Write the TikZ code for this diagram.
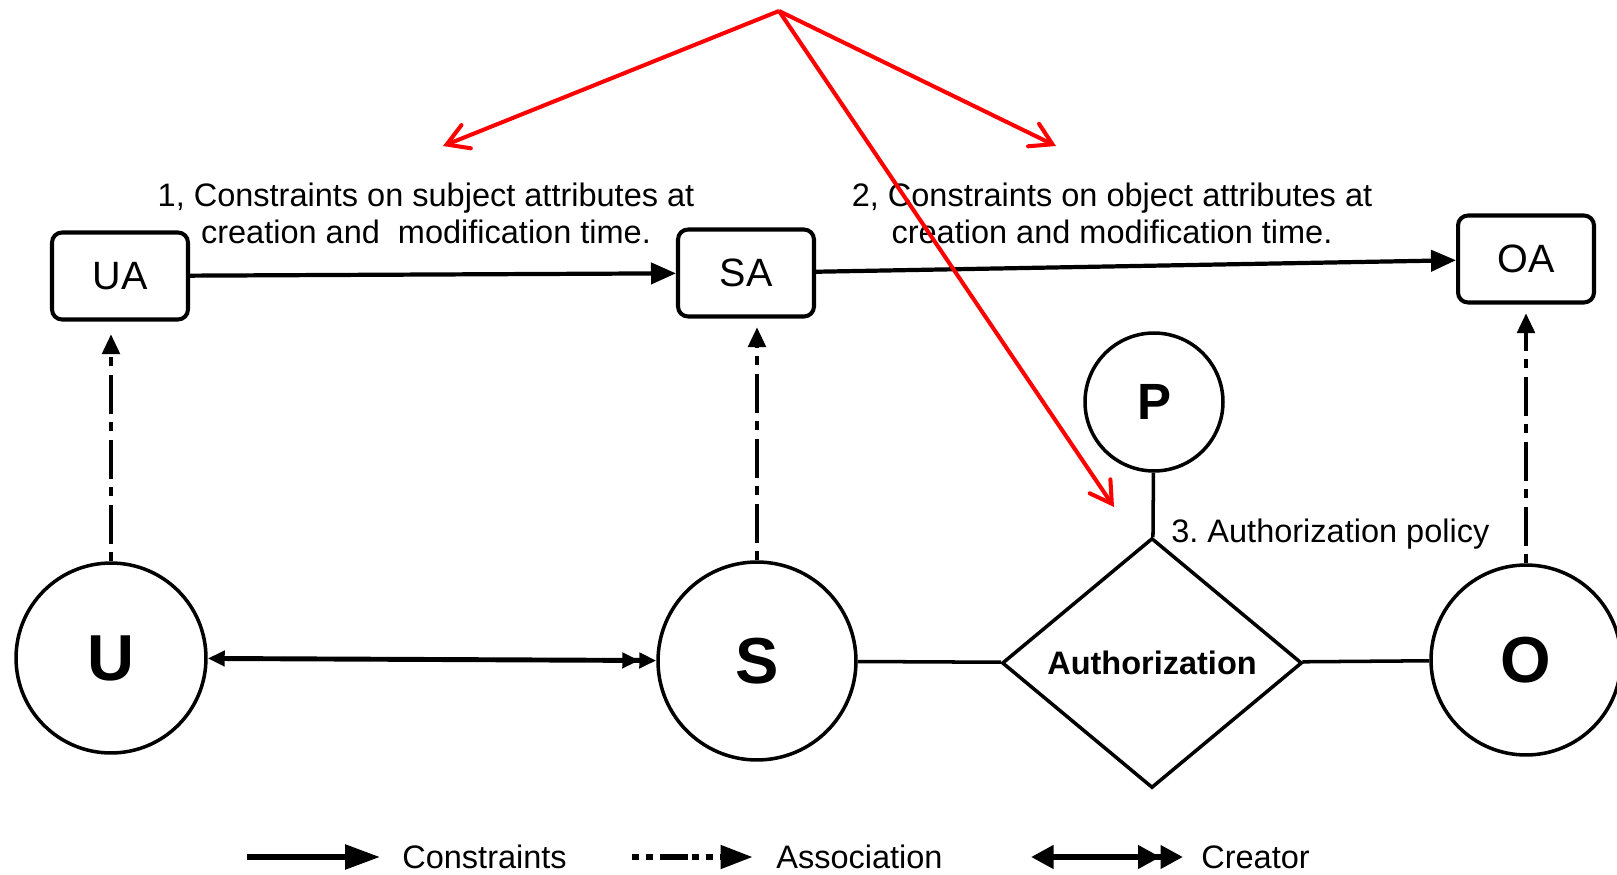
\documentclass[tikz,border=0pt]{standalone}
\usepackage{fontspec}
\setmainfont{Liberation Sans}
\usetikzlibrary{arrows.meta,shapes.geometric}

\begin{document}
\begin{tikzpicture}
[x=0.02cm,y=-0.02cm,
attr/.style={draw,rounded corners=0.2cm,line width=2.3pt,minimum width=2.72cm,minimum height=1.74cm,font=\fontsize{22.5}{26}\selectfont},
ent/.style={draw,circle,line width=2pt,inner sep=0pt,font=\fontsize{37}{40}\selectfont\bfseries},
note/.style={font=\fontsize{18.5}{21}\selectfont,align=center,inner sep=0pt},
cons/.style={-{Triangle[length=0.5cm,width=0.42cm]},line width=2.4pt},
assoc/.style={-{Triangle[length=0.4cm,width=0.34cm]},line width=2.8pt,dash pattern=on 5pt off 5pt on 22pt off 5pt},
creator/.style={{Triangle[length=0.34cm,width=0.3cm]}-{Triangle[length=0.34cm,width=0.3cm]Triangle[length=0.34cm,width=0.3cm]},line width=2.8pt},
link/.style={line width=2pt},
hint/.style={red,line width=2.3pt,-{Straight Barb[length=0.42cm,width=0.5cm,line cap=round]}}
]
\tikzset{lcons/.style={-{Triangle[length=0.7cm,width=0.48cm]},line width=3.2pt},
         lassoc/.style={-{Triangle[length=0.65cm,width=0.45cm]},line width=3.6pt,dash pattern=on 4pt off 4pt on 4pt off 4pt on 16pt off 2pt},
         lcreator/.style={{Triangle[length=0.45cm,width=0.45cm]}-{Triangle[length=0.45cm,width=0.45cm]Triangle[length=0.45cm,width=0.45cm]},line width=3.2pt}}
\useasboundingbox (0,0) rectangle (1617,875);

% attributes
\node[attr] (UA) at (120,276) {UA};
\node[attr] (SA) at (746,273) {SA};
\node[attr] (OA) at (1526,259) {OA};

% entities
\node[ent,minimum size=3.8cm] (U) at (111,658) {U};
\node[ent,minimum size=3.96cm] (S) at (757,661) {S};
\node[ent,minimum size=3.8cm] (O) at (1526,660) {O};
\node[ent,minimum size=2.76cm,font=\fontsize{29}{32}\selectfont\bfseries] (P) at (1154,402) {P};
\node[draw,diamond,aspect=1.2,line width=2pt,inner sep=0pt,minimum width=6cm,minimum height=5cm,
      font=\fontsize{18.5}{21}\selectfont\bfseries] (auth) at (1152,663) {Authorization};

\node[note] (subj) at (426,213) {1, Constraints on subject attributes at\\creation and\ \ modification time.};
\node[note] (obj) at (1112,213) {2, Constraints on object attributes at\\creation and modification time.};
\node[note,anchor=west] (pol) at (1171,534) {3.\ Authorization policy};

\draw[cons] (UA) -- (SA);
\draw[cons] (SA) -- (OA);
\draw[assoc,shorten >=0.25cm] (U.north) -- (U.north |- UA.south);
\draw[assoc,shorten >=0.17cm] (S.north) -- (S.north |- SA.south);
\draw[assoc,shorten >=0.17cm] (O.north) -- (O.north |- OA.south);
\draw[creator] (U) -- (S);
\draw[link] (S) -- (auth);
\draw[link] (auth) -- (O);
\draw[link] (P) -- (auth);

% legend
\coordinate (c1) at (247,857);
\coordinate (c2) at (380,857);
\node[note,anchor=west] (lc) at (402,857) {Constraints};
\coordinate (a1) at (632,857);
\coordinate (a2) at (753,857);
\node[note,anchor=west] (la) at (776,857) {Association};
\coordinate (r1) at (1031,857);
\coordinate (r2) at (1183,857);
\node[note,anchor=west] (lr) at (1201,857) {Creator};
\draw[lcons] (c1) -- (c2);
\draw[lassoc] (a1) -- (a2);
\draw[lcreator] (r1) -- (r2);

% red pointers
\coordinate (apex) at (779,11);
\coordinate (tipA) at (443,146);
\coordinate (tipB) at (1056,146);
\coordinate (tipC) at (1114,507);
\draw[hint] (apex) -- (tipA);
\draw[hint] (apex) -- (tipB);
\draw[hint] (apex) -- (tipC);
\end{tikzpicture}
\end{document}
